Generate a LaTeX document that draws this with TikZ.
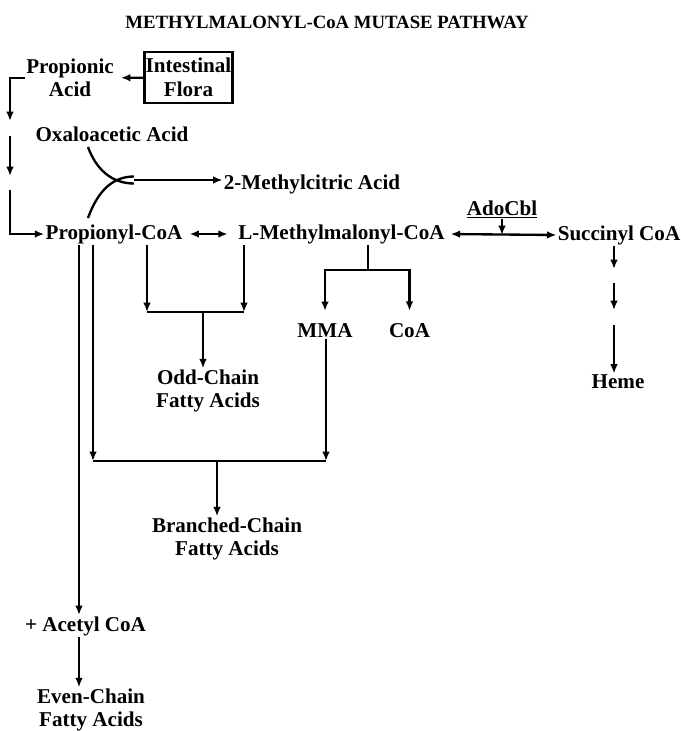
\documentclass[tikz,border=0pt]{standalone}
\usepackage{fontspec}
\setmainfont{Liberation Serif}
\usetikzlibrary{arrows, arrows.meta, positioning}

\begin{document}
\begin{tikzpicture}[x=0.03cm,y=-0.03cm]
	\tikzstyle{flow} = [line width=2pt, -{Latex[length=8pt,width=6.5pt]}]
	\tikzstyle{flowtwo} = [line width=2pt, {Latex[length=8pt,width=6.5pt]}-{Latex[length=8pt,width=6.5pt]}]
	\tikzstyle{bar} = [line width=2pt]
	\tikzstyle{chem} = [font=\bfseries\fontsize{18}{20}\selectfont, align=center, inner sep=1pt]
	\useasboundingbox (0,0) rectangle (681,731);
	\node (title) [font=\bfseries\fontsize{16}{18}\selectfont] at (327,22) {METHYLMALONYL-CoA MUTASE PATHWAY};
	% sources
	\node (propac) [chem] at (70,78) {Propionic\\Acid};
	\node (flora) [chem,draw,line width=2pt,minimum width=2.43cm,minimum height=1.53cm] at (188.5,77.5) {Intestinal\\Flora};
	\node (oxa) [chem] at (112,134) {Oxaloacetic Acid};
	\node (mca) [chem] at (312,184) {2-Methylcitric Acid};
	% main row
	\node (propcoa) [chem] at (114,234) {Propionyl-CoA};
	\node (lmm) [chem] at (341.5,234) {L-Methylmalonyl-CoA};
	\node (succ) [chem] at (619,235) {Succinyl CoA};
	\node (ado) [chem] at (502,209) {\underline{AdoCbl}};
	% products
	\node (mma) [chem] at (325,331) {MMA};
	\node (coa) [chem] at (409.5,331) {CoA};
	\node (odd) [chem] at (208,391) {Odd-Chain\\Fatty Acids};
	\node (heme) [chem] at (618,382) {Heme};
	\node (branched) [chem] at (227,539) {Branched-Chain\\Fatty Acids};
	\node (acetyl) [chem] at (85.5,626) {+ Acetyl CoA};
	\node (even) [chem] at (91,710) {Even-Chain\\Fatty Acids};

	% left chain
	\coordinate (c1) at (10,121);
	\coordinate (c2) at (10,136);
	\coordinate (c3) at (10,176);
	\coordinate (c4) at (10,190);
	\draw[flow, shorten >=5pt] (flora) -- (propac);
	\draw[flow] (propac.west) -| (c1);
	\draw[flow] (c2) -- (c3);
	\draw[flow] (c4) |- (propcoa.west);

	% condensation
	\coordinate (oxfoot) at (88,147);
	\coordinate (prhead) at (88,218);
	\coordinate (join) at (134,180);
	\draw[bar] (oxfoot) to[out=-70,in=180] ([yshift=-3pt]join);
	\draw[bar] (prhead) to[out=70,in=180] ([yshift=3pt]join);
	\draw[flow] (join) -- (mca.west |- join);

	% mutase
	\draw[flowtwo, shorten <=5pt, shorten >=8pt] (propcoa.east) -- (lmm.west);
	\draw[flowtwo, shorten <=4pt] (lmm.east) -- (succ.west);
	\draw[flow] (ado.south) -- (ado.south |- succ.west);

	% odd chain
	\coordinate (oddL) at (147,312);
	\coordinate (oddR) at (244,312);
	\coordinate (oddM) at (203,312);
	\draw[flow] (propcoa.south -| oddL) -- (oddL);
	\draw[flow] (lmm.south -| oddR) -- (oddR);
	\draw[bar] (oddL) -- (oddR);
	\draw[flow] (oddM) -- (oddM |- odd.north);

	% MMA and CoA
	\coordinate (mmJ) at (368,270);
	\draw[bar] (lmm.south -| mmJ) -- (mmJ);
	\draw[flow, shorten >=10pt] (mmJ) -| (mma.north);
	\draw[flow, shorten >=10pt] (mmJ) -| (coa.north);

	% branched chain
	\coordinate (brL) at (93,461);
	\coordinate (brR) at (326,461);
	\coordinate (brM) at (217,461);
	\draw[flow] (propcoa.south -| brL) -- (brL);
	\draw[flow] (mma.south -| brR) -- (brR);
	\draw[bar] (brL) -- (brR);
	\draw[flow] (brM) -- (brM |- branched.north);

	% even chain
	\coordinate (evx) at (79,0);
	\draw[flow] (propcoa.south -| evx) -- (acetyl.north -| evx);
	\draw[flow] (acetyl.south -| evx) -- (even.north -| evx);

	% heme
	\coordinate (h1) at (614,269);
	\coordinate (h2) at (614,283);
	\coordinate (h3) at (614,310);
	\coordinate (h4) at (614,325);
	\draw[flow] (succ.south -| h1) -- (h1);
	\draw[flow] (h2) -- (h3);
	\draw[flow] (h4) -- (heme.north -| h4);
\end{tikzpicture}
\end{document}
